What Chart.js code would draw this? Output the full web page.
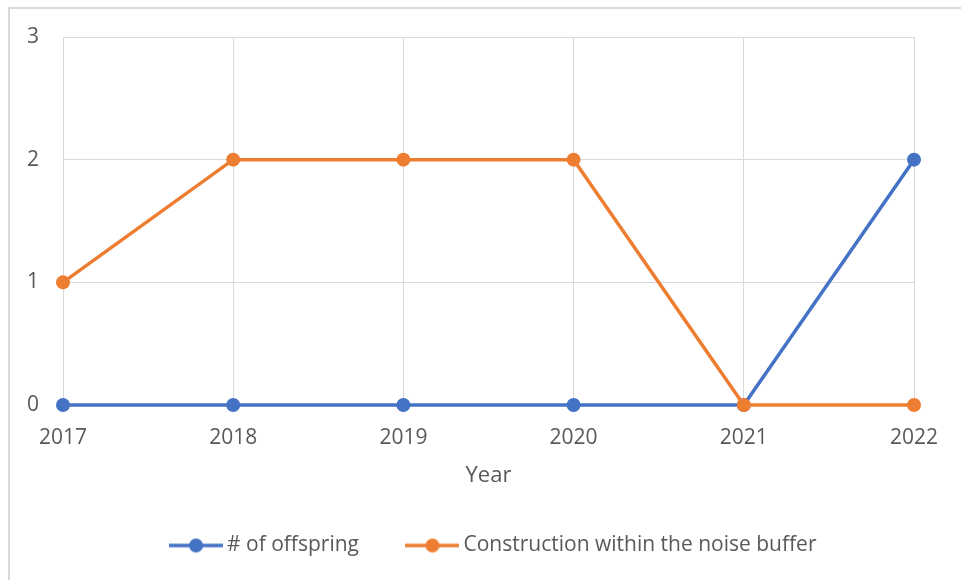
<!DOCTYPE html>
<html>
<head>
<meta charset="utf-8">
<script src="https://cdn.jsdelivr.net/npm/chart.js@4/dist/chart.umd.min.js"></script>
<style>
  html, body { margin: 0; padding: 0; background: #fff; }
  #wrap { position: relative; width: 961px; height: 580px; overflow: hidden; }
  #frame { position: absolute; left: 8px; top: 7px; width: 1000px; height: 600px; border: 2px solid #d9d9d9; box-sizing: border-box; }
  #chart { position: absolute; left: 0; top: 0; }
</style>
</head>
<body>
<div id="wrap">
  <div id="frame"></div>
  <canvas id="chart" width="961" height="580"></canvas>
</div>
<script>
/* --- data --- */
const years = ['2017', '2018', '2019', '2020', '2021', '2022'];
const offspring = [0, 0, 0, 0, 0, 2];
const construction = [1, 2, 2, 2, 0, 0];
const yTicks = [0, 1, 2, 3];

const BLUE = '#4472c4';
const ORANGE = '#ed7d31';
const TEXT = '#595959';
const FONT = 'Open Sans';

// legend sample: short line with a dot in the middle
function legendMark(color) {
  const c = document.createElement('canvas');
  c.width = 54; c.height = 16;
  const g = c.getContext('2d');
  g.strokeStyle = color;
  g.lineWidth = 3.5;
  g.beginPath(); g.moveTo(0, 8); g.lineTo(54, 8); g.stroke();
  g.fillStyle = color;
  g.beginPath(); g.arc(27, 8, 7, 0, Math.PI * 2); g.fill();
  return c;
}
const marks = [legendMark(BLUE), legendMark(ORANGE)];

// nudge legend row so it sits centred like the original
const legendShift = {
  id: 'legendShift',
  afterLayout(chart) {
    if (chart.legend && chart.legend.lineWidths) chart.legend.lineWidths[0] -= 68;
  }
};

new Chart(document.getElementById('chart').getContext('2d'), {
  type: 'line',
  data: {
    labels: years,
    datasets: [{
      label: '# of offspring',
      data: offspring,
      borderColor: BLUE,
      backgroundColor: BLUE,
      borderWidth: 3.5,
      pointRadius: 7,
      pointBorderWidth: 0,
      clip: false,
      order: 1
    }, {
      label: 'Construction within the noise buffer',
      data: construction,
      borderColor: ORANGE,
      backgroundColor: ORANGE,
      borderWidth: 3.5,
      pointRadius: 7,
      pointBorderWidth: 0,
      clip: false,
      order: 0
    }]
  },
  plugins: [legendShift],
  options: {
    responsive: false,
    animation: false,
    layout: { padding: { left: 10, right: 47, top: 37, bottom: 14 } },
    plugins: {
      tooltip: { enabled: false },
      legend: {
        position: 'bottom',
        labels: {
          usePointStyle: true,
          pointStyleWidth: 41,
          padding: 53,
          color: TEXT,
          font: { family: FONT, size: 21 },
          sort: (a, b) => a.datasetIndex - b.datasetIndex,
          generateLabels: (chart) => {
            const items = Chart.defaults.plugins.legend.labels.generateLabels(chart);
            items.forEach(it => { it.pointStyle = marks[it.datasetIndex]; });
            return items;
          }
        }
      }
    },
    scales: {
      x: {
        offset: false,
        grid: { color: '#d9d9d9', lineWidth: 1, drawTicks: false },
        border: { display: false },
        ticks: { color: TEXT, font: { family: FONT, size: 21 }, padding: 20, maxRotation: 0 },
        title: { display: true, text: 'Year', color: TEXT, font: { family: FONT, size: 22 }, padding: { top: 12, bottom: -7 } },
        afterFit: (scale) => { scale.height = 77; }
      },
      y: {
        min: 0,
        max: 3,
        grid: { color: '#d9d9d9', lineWidth: 1, drawTicks: false },
        border: { display: false },
        afterBuildTicks: (scale) => { scale.ticks = yTicks.map(v => ({ value: v })); },
        ticks: { color: TEXT, font: { family: FONT, size: 21 }, padding: 24 },
        afterFit: (scale) => { scale.width = 53; }
      }
    }
  }
});
</script>
</body>
</html>
